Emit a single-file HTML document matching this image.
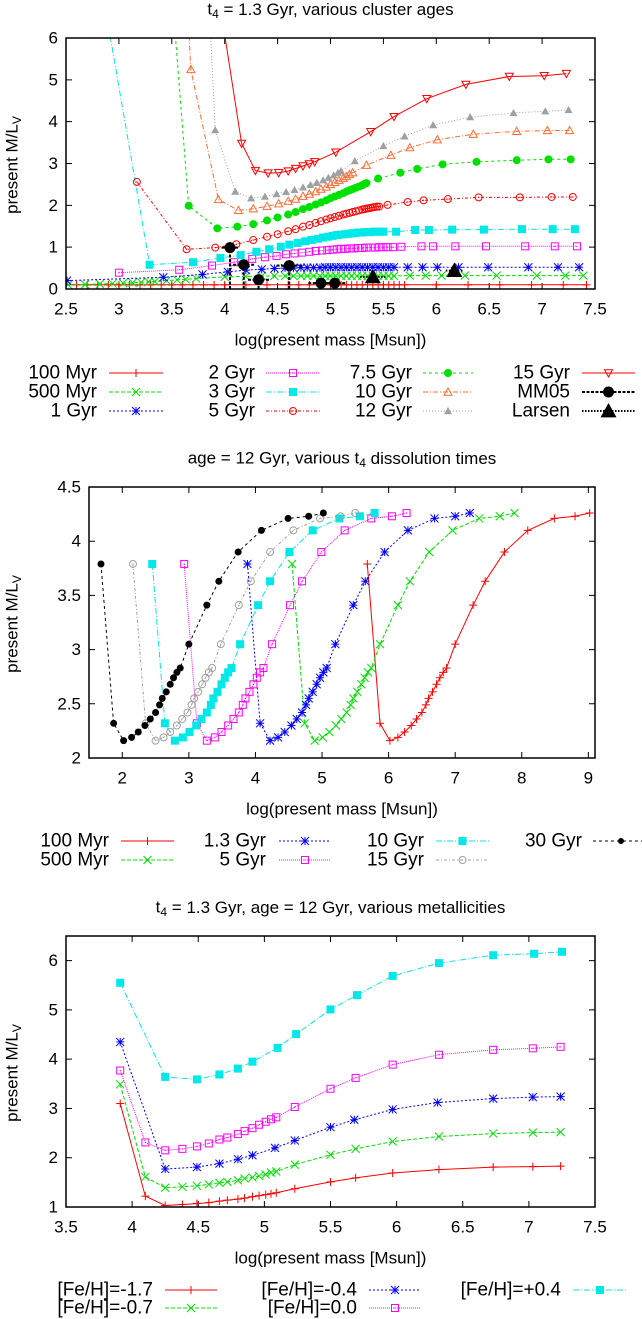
<!DOCTYPE html>
<html><head><meta charset="utf-8">
<style>
html,body{margin:0;padding:0;background:#fff;}
svg{display:block;font-family:"Liberation Sans",sans-serif;}
text{fill:#000;}
</style></head>
<body>
<svg id="fig" width="642" height="1319" viewBox="0 0 642 1319" xmlns="http://www.w3.org/2000/svg"></svg>
<script>
// ---------- Panel 1 data: t4 = 1.3 Gyr, various cluster ages ----------
const p1_x_100myr=[2.5,2.6,2.7,2.8,2.9,3.0,3.1,3.2,3.3,3.4,3.5,3.6,3.7,3.8,3.9,4.0,4.2,4.4,4.6,4.7,4.8,4.9,5.0,5.05,5.1,5.15,5.2,5.25,5.3,5.35,5.4,5.45,5.5,5.55,5.6,5.65,5.7,6.0,6.3,6.6,6.9,7.2,7.42];
const p1_y_100myr=[0.10,0.10,0.10,0.10,0.10,0.10,0.10,0.10,0.10,0.10,0.10,0.10,0.10,0.10,0.10,0.10,0.10,0.10,0.10,0.10,0.10,0.10,0.10,0.10,0.10,0.10,0.10,0.10,0.10,0.10,0.10,0.10,0.10,0.10,0.10,0.10,0.10,0.10,0.10,0.10,0.10,0.10,0.10];
const p1_x_500myr=[2.52,2.68,2.82,2.94,3.04,3.13,3.21,3.28,3.34,3.45,3.55,3.63,3.73,4.0,4.2,4.35,4.47,4.57,4.65,4.72,4.78,4.84,4.90,4.95,5.0,5.05,5.1,5.15,5.2,5.25,5.3,5.35,5.4,5.45,5.5,5.55,5.6,5.75,5.9,6.05,6.27,6.57,6.95,7.22,7.39];
const p1_y_500myr=[0.10,0.11,0.12,0.13,0.14,0.15,0.16,0.17,0.18,0.20,0.22,0.23,0.25,0.29,0.30,0.31,0.31,0.31,0.31,0.31,0.31,0.31,0.31,0.31,0.31,0.31,0.31,0.31,0.31,0.31,0.31,0.31,0.31,0.31,0.31,0.31,0.31,0.32,0.32,0.32,0.32,0.32,0.32,0.32,0.32];
const p1_x_1gyr=[2.51,3.42,3.79,4.03,4.2,4.35,4.47,4.57,4.65,4.72,4.78,4.84,4.90,4.95,5.0,5.05,5.1,5.15,5.2,5.25,5.3,5.35,5.4,5.45,5.5,5.55,5.6,5.73,5.87,6.01,6.21,6.49,6.87,7.15,7.35];
const p1_y_1gyr=[0.20,0.28,0.35,0.41,0.45,0.47,0.49,0.50,0.50,0.51,0.51,0.51,0.51,0.52,0.52,0.52,0.52,0.52,0.52,0.52,0.52,0.52,0.52,0.52,0.52,0.52,0.52,0.52,0.52,0.52,0.52,0.52,0.52,0.52,0.52];
const p1_x_2gyr=[3.00,3.57,3.88,4.09,4.26,4.38,4.49,4.58,4.66,4.73,4.80,4.86,4.92,4.97,5.02,5.06,5.10,5.14,5.18,5.22,5.26,5.30,5.34,5.38,5.42,5.46,5.50,5.54,5.59,5.67,5.86,5.97,6.18,6.47,6.84,7.12,7.33];
const p1_y_2gyr=[0.39,0.46,0.56,0.64,0.72,0.76,0.79,0.83,0.85,0.87,0.89,0.91,0.92,0.93,0.94,0.95,0.96,0.96,0.97,0.97,0.98,0.98,0.99,0.99,0.99,1.0,1.0,1.0,1.0,1.01,1.02,1.02,1.02,1.02,1.02,1.02,1.02];
const p1_x_3gyr=[2.90,3.29,3.70,3.96,4.15,4.30,4.42,4.53,4.61,4.69,4.76,4.82,4.88,4.93,4.98,5.02,5.06,5.10,5.14,5.17,5.20,5.23,5.26,5.29,5.32,5.35,5.38,5.41,5.44,5.47,5.50,5.62,5.80,5.93,6.15,6.45,6.81,7.10,7.31];
const p1_y_3gyr=[6.3,0.58,0.64,0.74,0.81,0.89,0.95,1.01,1.06,1.10,1.14,1.17,1.20,1.23,1.25,1.27,1.29,1.30,1.31,1.32,1.33,1.34,1.35,1.35,1.36,1.36,1.36,1.37,1.37,1.37,1.37,1.37,1.41,1.41,1.42,1.42,1.43,1.43,1.43];
const p1_x_5gyr=[3.17,3.64,3.91,4.11,4.27,4.40,4.50,4.60,4.67,4.74,4.80,4.86,4.91,4.96,5.00,5.04,5.08,5.12,5.15,5.18,5.21,5.24,5.27,5.30,5.32,5.34,5.36,5.38,5.40,5.42,5.44,5.46,5.54,5.73,5.88,6.11,6.40,6.79,7.09,7.29];
const p1_y_5gyr=[2.56,0.95,0.99,1.07,1.17,1.25,1.31,1.38,1.43,1.49,1.53,1.58,1.62,1.66,1.69,1.72,1.75,1.78,1.80,1.82,1.84,1.86,1.88,1.90,1.91,1.92,1.93,1.94,1.95,1.96,1.97,1.97,2.01,2.08,2.12,2.15,2.19,2.19,2.20,2.20];
const p1_x_7gyr=[3.52,3.66,3.93,4.12,4.27,4.40,4.50,4.60,4.67,4.74,4.80,4.86,4.91,4.96,5.00,5.04,5.08,5.12,5.15,5.18,5.21,5.24,5.27,5.30,5.32,5.34,5.45,5.66,5.82,6.06,6.38,6.76,7.06,7.27];
const p1_y_7gyr=[6.5,1.99,1.45,1.49,1.55,1.64,1.71,1.78,1.84,1.91,1.96,2.02,2.07,2.12,2.17,2.21,2.25,2.29,2.33,2.36,2.39,2.42,2.45,2.48,2.51,2.53,2.64,2.78,2.87,2.98,3.04,3.08,3.10,3.10];
const p1_x_10gyr=[3.64,3.68,3.94,4.13,4.27,4.40,4.51,4.60,4.67,4.74,4.80,4.86,4.91,4.96,5.00,5.04,5.08,5.12,5.15,5.18,5.21,5.34,5.57,5.75,6.01,6.35,6.76,7.05,7.26];
const p1_y_10gyr=[7.25,5.25,2.14,1.88,1.92,1.98,2.04,2.10,2.15,2.22,2.27,2.33,2.39,2.44,2.50,2.55,2.60,2.65,2.69,2.74,2.78,2.96,3.20,3.38,3.57,3.70,3.77,3.79,3.79];
const p1_x_12gyr=[3.85,3.91,4.10,4.25,4.38,4.49,4.58,4.66,4.74,4.81,4.87,4.93,4.98,5.03,5.07,5.10,5.23,5.50,5.70,5.97,6.32,6.73,7.03,7.25];
const p1_y_12gyr=[7.0,3.80,2.33,2.17,2.21,2.27,2.32,2.37,2.43,2.49,2.54,2.60,2.66,2.72,2.78,2.82,3.06,3.42,3.65,3.92,4.11,4.21,4.25,4.28];
const p1_x_15gyr=[3.98,4.16,4.29,4.41,4.51,4.60,4.67,4.74,4.80,4.85,5.05,5.38,5.60,5.91,6.28,6.69,7.02,7.23];
const p1_y_15gyr=[6.4,3.48,2.83,2.77,2.78,2.82,2.88,2.94,2.99,3.04,3.27,3.76,4.12,4.55,4.89,5.08,5.10,5.15];
const mm05_x=[4.05,4.18,4.32,4.61,4.91,5.04];
const mm05_y=[0.99,0.58,0.22,0.56,0.14,0.14];
const mm05_ylo=[0,0,0,0,0,0];
const mm05_yhi=[1.05,0.64,0.28,0.62,0.18,0.18];
const mm05_xerr=[0.08,0.1,0.1,0.12,0.12,0.1];
const larsen_x=[5.40,6.17];
const larsen_y=[0.29,0.44];
const larsen_xerr=[0.12,0.08];

// ---------- Panel 2 data: age = 12 Gyr, various t4 ----------
const p2_y=[3.79,2.32,2.16,2.19,2.24,2.30,2.36,2.42,2.49,2.55,2.61,2.68,2.74,2.79,2.83,3.05,3.41,3.63,3.90,4.10,4.21,4.23,4.26];
const p2_x_100myr=[5.68,5.87,6.02,6.14,6.24,6.34,6.42,6.50,6.56,6.60,6.66,6.72,6.77,6.82,6.87,7.00,7.27,7.45,7.74,8.09,8.49,8.80,9.02];
const p2_x_500myr=[4.55,4.74,4.89,5.01,5.11,5.21,5.29,5.37,5.43,5.47,5.53,5.59,5.64,5.69,5.74,5.87,6.14,6.32,6.61,6.96,7.36,7.67,7.89];
const p2_x_1_3gyr=[3.88,4.07,4.22,4.34,4.44,4.54,4.62,4.70,4.76,4.80,4.86,4.92,4.97,5.02,5.07,5.20,5.47,5.65,5.94,6.29,6.69,7.00,7.22];
const p2_x_5gyr=[2.93,3.12,3.27,3.39,3.49,3.59,3.67,3.75,3.81,3.85,3.91,3.97,4.02,4.07,4.12,4.25,4.52,4.70,4.99,5.34,5.74,6.05,6.27];
const p2_x_10gyr=[2.45,2.64,2.79,2.91,3.01,3.11,3.19,3.27,3.33,3.37,3.43,3.49,3.54,3.59,3.64,3.77,4.04,4.22,4.51,4.86,5.26,5.57,5.79];
const p2_x_15gyr=[2.16,2.35,2.50,2.62,2.72,2.82,2.90,2.98,3.04,3.08,3.14,3.20,3.25,3.30,3.35,3.48,3.75,3.93,4.22,4.57,4.97,5.28,5.50];
const p2_x_30gyr=[1.68,1.87,2.02,2.14,2.24,2.34,2.42,2.50,2.56,2.60,2.66,2.72,2.77,2.82,2.87,3.00,3.27,3.45,3.74,4.09,4.49,4.80,5.02];

// ---------- Panel 3 data: metallicities ----------
const p3_x_dense=[3.91,4.10,4.25,4.38,4.49,4.58,4.66,4.72,4.80,4.85,4.91,4.96,5.01,5.05,5.09,5.23,5.50,5.69,5.97,6.32,6.73,7.03,7.24];
const p3_y_m17=[3.10,1.22,1.03,1.05,1.07,1.09,1.12,1.14,1.16,1.18,1.21,1.23,1.25,1.27,1.29,1.37,1.51,1.59,1.69,1.76,1.81,1.82,1.83];
const p3_y_m07=[3.49,1.61,1.39,1.41,1.43,1.46,1.49,1.51,1.54,1.58,1.60,1.63,1.66,1.70,1.72,1.86,2.06,2.18,2.33,2.43,2.49,2.51,2.52];
const p3_y_00=[3.77,2.31,2.15,2.18,2.23,2.29,2.37,2.41,2.48,2.54,2.60,2.67,2.73,2.78,2.82,3.03,3.40,3.62,3.89,4.09,4.19,4.22,4.25];
const p3_x_m04=[3.91,4.25,4.49,4.66,4.80,4.91,5.08,5.23,5.50,5.68,5.97,6.31,6.73,7.03,7.24];
const p3_y_m04=[4.35,1.77,1.81,1.88,1.97,2.05,2.20,2.35,2.62,2.77,2.98,3.12,3.20,3.23,3.24];
const p3_x_p04=[3.91,4.25,4.49,4.66,4.80,4.91,5.10,5.24,5.50,5.70,5.97,6.32,6.73,7.04,7.25];
const p3_y_p04=[5.55,3.64,3.59,3.69,3.81,3.95,4.23,4.51,5.01,5.30,5.69,5.95,6.11,6.14,6.18];

const NS='http://www.w3.org/2000/svg';
const svg=document.getElementById('fig');
function el(tag,attrs,parent){const e=document.createElementNS(NS,tag);for(const k in attrs)e.setAttribute(k,attrs[k]);(parent||svg).appendChild(e);return e;}
function txt(s,x,y,anchor,size,parent){const t=el('text',{x:x,y:y,'text-anchor':anchor||'middle','dominant-baseline':'central','font-size':size||19},parent);t.textContent=s;return t;}

function marker(g,type,x,y,color,s){
  s=s||4;let e;
  const st={stroke:color,'stroke-width':1,fill:'none'};
  if(type==='plus'){e=el('path',Object.assign({d:`M${x-s} ${y}H${x+s}M${x} ${y-s}V${y+s}`},st),g);}
  else if(type==='cross'){e=el('path',Object.assign({d:`M${x-s} ${y-s}L${x+s} ${y+s}M${x-s} ${y+s}L${x+s} ${y-s}`},st),g);}
  else if(type==='star'){e=el('path',Object.assign({d:`M${x-s} ${y}H${x+s}M${x} ${y-s}V${y+s}M${x-s} ${y-s}L${x+s} ${y+s}M${x-s} ${y+s}L${x+s} ${y-s}`},st),g);}
  else if(type==='sq'){e=el('rect',Object.assign({x:x-s+0.5,y:y-s+0.5,width:2*s-1,height:2*s-1},st),g);el('circle',{cx:x,cy:y,r:0.6,fill:color},g);}
  else if(type==='sqf'){e=el('rect',{x:x-s,y:y-s,width:2*s,height:2*s,fill:color},g);}
  else if(type==='ci'){e=el('circle',Object.assign({cx:x,cy:y,r:s-0.5},st),g);el('circle',{cx:x,cy:y,r:0.7,fill:color},g);}
  else if(type==='cif'){e=el('circle',{cx:x,cy:y,r:s,fill:color},g);}
  else if(type==='tri'){e=el('path',Object.assign({d:`M${x} ${y-s}L${x+s} ${y+s*0.8}L${x-s} ${y+s*0.8}Z`},st),g);}
  else if(type==='trif'){e=el('path',{d:`M${x} ${y-s}L${x+s} ${y+s*0.8}L${x-s} ${y+s*0.8}Z`,fill:color},g);}
  else if(type==='trid'){e=el('path',Object.assign({d:`M${x} ${y+s}L${x+s} ${y-s*0.8}L${x-s} ${y-s*0.8}Z`},st),g);}
  return e;
}

function makePanel(id,cfg){
  const g=el('g',{});
  
  
  const X=v=>cfg.L+(v-cfg.xmin)/(cfg.xmax-cfg.xmin)*(cfg.R-cfg.L);
  const Y=v=>cfg.B-(v-cfg.ymin)/(cfg.ymax-cfg.ymin)*(cfg.B-cfg.T);
  const cp=el('clipPath',{id:'clip-'+id},g);
  el('rect',{x:cfg.L,y:cfg.T,width:cfg.R-cfg.L,height:cfg.B-cfg.T},cp);
  // title
  const tt=el('text',{x:(cfg.L+cfg.R)/2+cfg.tdx,y:cfg.ty,'text-anchor':'middle','dominant-baseline':'central','font-size':17},g);
  
  
  tt.innerHTML=cfg.title;
  // ticks
  const ax=el('g',{},g);
  
  
  cfg.xticks.forEach(v=>{
    const x=X(v);
    el('path',{d:`M${x} ${cfg.B}V${cfg.B-6}M${x} ${cfg.T}V${cfg.T+6}`,stroke:'#000','stroke-width':1},ax);
    const t=txt(String(v),x,cfg.B+20,'middle',17,ax);
    
    
  });
  const ay=el('g',{},g);
  
  
  cfg.yticks.forEach(v=>{
    const y=Y(v);
    el('path',{d:`M${cfg.L} ${y}H${cfg.L+6}M${cfg.R} ${y}H${cfg.R-6}`,stroke:'#000','stroke-width':1},ay);
    const t=txt(String(v),cfg.L-8,y,'end',17,ay);
    
    
  });
  const xl=txt('log(present mass [Msun])',(cfg.L+cfg.R)/2+cfg.tdx,cfg.B+51,'middle',17,g);
  
  
  const yl=el('text',{x:0,y:0,'text-anchor':'middle','dominant-baseline':'central','font-size':17,transform:`translate(12 ${cfg.yly}) rotate(-90)`},g);
  
  
  yl.innerHTML='present M/L<tspan font-size="12" dy="5">V</tspan>';
  const plot=el('g',{'clip-path':`url(#clip-${id})`},g);
  const frame=el('rect',{x:cfg.L,y:cfg.T,width:cfg.R-cfg.L,height:cfg.B-cfg.T,fill:'none',stroke:'#000','stroke-width':1.5},g);
  
  
  return {X,Y,plot,g};
}

function series(P,name,xs,ys,color,dash,mk,ms){
  const s=el('g',{},P.plot);
  
  
  const pts=xs.map((v,i)=>P.X(v).toFixed(1)+','+P.Y(ys[i]).toFixed(1)).join(' ');
  el('polyline',{points:pts,fill:'none',stroke:color,'stroke-width':1,'stroke-dasharray':dash||'none'},s);
  xs.forEach((v,i)=>{marker(s,mk,P.X(v),P.Y(ys[i]),color,ms);});
}

function legend(name,label,tr,x1,x2,y,color,dash,mk,ms,lw){
  const g=el('g',{});
  
  
  txt(label,tr,y,'end',19,g);
  el('line',{x1:x1,y1:y,x2:x2,y2:y,stroke:color,'stroke-width':lw||1,'stroke-dasharray':dash||'none'},g);
  marker(g,mk,(x1+x2)/2,y,color,ms);
  return g;
}

const RED='#ff0000',GRN='#00e000',BLU='#0000ff',MAG='#ff00ff',CYA='#00e8e8',ORA='#ff6a30',GRY='#a0a0a0';

// ---------- Panel 1 ----------
const P1=makePanel('panel-cluster-ages',{L:66,R:595,T:38,B:289,xmin:2.5,xmax:7.5,ymin:0,ymax:6,
  xticks:[2.5,3,3.5,4,4.5,5,5.5,6,6.5,7,7.5],yticks:[0,1,2,3,4,5,6],ty:9,tdx:0,yly:165,
  title:'t<tspan font-size="12" dy="5">4</tspan><tspan dy="-5"> = 1.3 Gyr, various cluster ages</tspan>'});
series(P1,'series-100-myr',p1_x_100myr,p1_y_100myr,RED,'','plus');
series(P1,'series-500-myr',p1_x_500myr,p1_y_500myr,GRN,'4,2','cross');
series(P1,'series-1-gyr',p1_x_1gyr,p1_y_1gyr,BLU,'2,2','star');
series(P1,'series-2-gyr',p1_x_2gyr,p1_y_2gyr,MAG,'1,1','sq');
series(P1,'series-3-gyr',p1_x_3gyr,p1_y_3gyr,CYA,'6,2,1,2','sqf');
series(P1,'series-5-gyr',p1_x_5gyr,p1_y_5gyr,RED,'3,2,1,2','ci');
series(P1,'series-7-5-gyr',p1_x_7gyr,p1_y_7gyr,GRN,'3,3','cif');
series(P1,'series-10-gyr',p1_x_10gyr,p1_y_10gyr,ORA,'5,2,1,2','tri');
series(P1,'series-12-gyr',p1_x_12gyr,p1_y_12gyr,GRY,'1,2','trif');
series(P1,'series-15-gyr',p1_x_15gyr,p1_y_15gyr,RED,'','trid');
// MM05 with error bars
(function(){
  const g=el('g',{},P1.plot);
  
  
  mm05_x.forEach((v,i)=>{
    const x=P1.X(v),y=P1.Y(mm05_y[i]);
    el('path',{d:`M${x} ${P1.Y(mm05_ylo[i])}V${P1.Y(mm05_yhi[i])}M${P1.X(v-mm05_xerr[i])} ${y}H${P1.X(v+mm05_xerr[i])}`,stroke:'#000','stroke-width':2,'stroke-dasharray':'3,1.5',fill:'none'},g);
    marker(g,'cif',x,y,'#000',5.5);
  });
  const g2=el('g',{},P1.plot);
  
  
  larsen_x.forEach((v,i)=>{
    const x=P1.X(v),y=P1.Y(larsen_y[i]);
    el('path',{d:`M${P1.X(v-larsen_xerr[i])} ${y}H${P1.X(v+larsen_xerr[i])}`,stroke:'#000','stroke-width':2,'stroke-dasharray':'1.5,1.5'},g2);
    marker(g2,'trif',x,y,'#000',8);
  });
})();
// Legend 1
legend('legend-100-myr','100 Myr',97,109,163,373,RED,'','plus');
legend('legend-500-myr','500 Myr',97,109,163,392,GRN,'4,2','cross');
legend('legend-1-gyr','1 Gyr',97,109,163,411,BLU,'2,2','star');
legend('legend-2-gyr','2 Gyr',255,266,320,373,MAG,'1,1','sq');
legend('legend-3-gyr','3 Gyr',255,266,320,392,CYA,'6,2,1,2','sqf');
legend('legend-5-gyr','5 Gyr',255,266,320,411,RED,'3,2,1,2','ci');
legend('legend-7-5-gyr','7.5 Gyr',412,423,473,373,GRN,'3,3','cif');
legend('legend-10-gyr','10 Gyr',412,423,473,392,ORA,'5,2,1,2','tri');
legend('legend-12-gyr','12 Gyr',412,423,473,411,GRY,'1,2','trif');
legend('legend-15-gyr','15 Gyr',570,582,635,373,RED,'','trid');
legend('legend-mm05','MM05',570,582,635,392,'#000','3,1.5','cif',5.5,2);
legend('legend-larsen','Larsen',570,582,635,411,'#000','1.5,1.5','trif',8,2);

// ---------- Panel 2 ----------
const P2=makePanel('panel-dissolution-times',{L:89,R:595,T:487,B:758,xmin:1.5,xmax:9.1,ymin:2,ymax:4.5,
  xticks:[2,3,4,5,6,7,8,9],yticks:[2,2.5,3,3.5,4,4.5],ty:458,tdx:0,yly:624,
  title:'age = 12 Gyr, various t<tspan font-size="12" dy="5">4</tspan><tspan dy="-5"> dissolution times</tspan>'});
series(P2,'series-t4-100-myr',p2_x_100myr,p2_y,RED,'','plus');
series(P2,'series-t4-500-myr',p2_x_500myr,p2_y,GRN,'4,2','cross');
series(P2,'series-t4-1-3-gyr',p2_x_1_3gyr,p2_y,BLU,'2,2','star');
series(P2,'series-t4-5-gyr',p2_x_5gyr,p2_y,MAG,'1,1','sq');
series(P2,'series-t4-10-gyr',p2_x_10gyr,p2_y,CYA,'6,2,1,2','sqf');
series(P2,'series-t4-15-gyr',p2_x_15gyr,p2_y,GRY,'3,2,1,2','ci');
series(P2,'series-t4-30-gyr',p2_x_30gyr,p2_y,'#000','3,3','cif',3.5);
legend('legend-t4-100-myr','100 Myr',109,121,174,841,RED,'','plus');
legend('legend-t4-500-myr','500 Myr',109,121,174,860,GRN,'4,2','cross');
legend('legend-t4-1-3-gyr','1.3 Gyr',266,279,331,841,BLU,'2,2','star');
legend('legend-t4-5-gyr','5 Gyr',266,279,331,860,MAG,'1,1','sq');
legend('legend-t4-10-gyr','10 Gyr',424,436,489,841,CYA,'6,2,1,2','sqf');
legend('legend-t4-15-gyr','15 Gyr',424,436,489,860,GRY,'3,2,1,2','ci');
legend('legend-t4-30-gyr','30 Gyr',582,593,649,841,'#000','3,3','cif',3);

// ---------- Panel 3 ----------
const P3=makePanel('panel-metallicities',{L:66,R:595,T:936,B:1207,xmin:3.5,xmax:7.5,ymin:1,ymax:6.5,
  xticks:[3.5,4,4.5,5,5.5,6,6.5,7,7.5],yticks:[1,2,3,4,5,6],ty:907,tdx:0,yly:1073,
  title:'t<tspan font-size="12" dy="5">4</tspan><tspan dy="-5"> = 1.3 Gyr, age = 12 Gyr, various metallicities</tspan>'});
series(P3,'series-feh-m1-7',p3_x_dense,p3_y_m17,RED,'','plus');
series(P3,'series-feh-m0-7',p3_x_dense,p3_y_m07,GRN,'4,2','cross');
series(P3,'series-feh-m0-4',p3_x_m04,p3_y_m04,BLU,'2,2','star');
series(P3,'series-feh-0-0',p3_x_dense,p3_y_00,MAG,'1,1','sq');
series(P3,'series-feh-p0-4',p3_x_p04,p3_y_p04,CYA,'6,2,1,2','sqf');
legend('legend-feh-m1-7','[Fe/H]=-1.7',153,165,217,1290,RED,'','plus');
legend('legend-feh-m0-7','[Fe/H]=-0.7',153,165,217,1308,GRN,'4,2','cross');
legend('legend-feh-m0-4','[Fe/H]=-0.4',357,369,421,1290,BLU,'2,2','star');
legend('legend-feh-0-0','[Fe/H]=0.0',357,369,421,1308,MAG,'1,1','sq');
legend('legend-feh-p0-4','[Fe/H]=+0.4',561,573,627,1290,CYA,'6,2,1,2','sqf');
</script>
</body></html>
